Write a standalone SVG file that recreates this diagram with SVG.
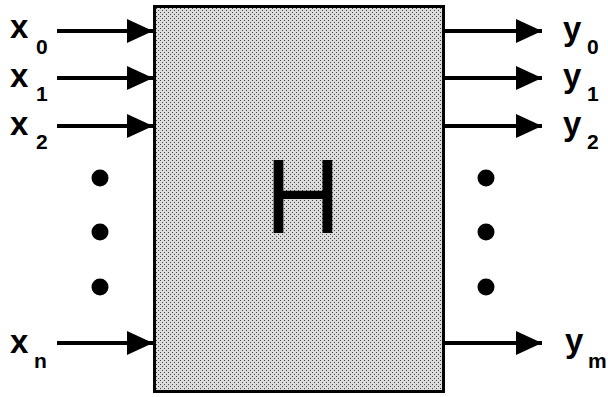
<svg xmlns="http://www.w3.org/2000/svg" width="608" height="397" viewBox="0 0 608 397">
<style>
.lbl{font-family:"Liberation Sans",Arial,sans-serif;font-weight:bold;font-size:33px;fill:#000}
.sub{font-family:"Liberation Sans",Arial,sans-serif;font-weight:bold;font-size:21px;fill:#000}
.conn{stroke:#000;stroke-width:4;fill:none;marker-end:url(#ah)}
.dot{fill:#000}
</style>
<defs>
<marker id="ah" markerUnits="userSpaceOnUse" markerWidth="26" markerHeight="25" refX="26" refY="12.5" orient="auto">
<path d="M0,0.5 L26,12.5 L0,24.5 Z" fill="#000"/>
</marker>
<pattern id="dith" width="4" height="4" patternUnits="userSpaceOnUse">
<rect width="4" height="4" fill="#dcdcdc"/>
<rect x="0" y="0" width="1" height="1" fill="#444"/>
<rect x="2" y="2" width="1" height="1" fill="#444"/>
</pattern>
</defs>
<g id="H">
<rect x="154.5" y="6.5" width="289" height="385" fill="url(#dith)" stroke="#000" stroke-width="3"/>
<text x="303" y="233" text-anchor="middle" font-family="'Liberation Sans',Arial,sans-serif" font-size="105" fill="#000">H</text>
</g>
<g id="connectors">
<line class="conn" x1="57" y1="31" x2="153" y2="31"/>
<line class="conn" x1="57" y1="78" x2="153" y2="78"/>
<line class="conn" x1="57" y1="126" x2="153" y2="126"/>
<line class="conn" x1="57" y1="343" x2="153" y2="343"/>
<line class="conn" x1="444" y1="31" x2="542" y2="31"/>
<line class="conn" x1="444" y1="78" x2="542" y2="78"/>
<line class="conn" x1="444" y1="126" x2="542" y2="126"/>
<line class="conn" x1="444" y1="343" x2="542" y2="343"/>
</g>
<g id="inputs">
<text class="lbl" x="10" y="38">x</text><text class="sub" x="36" y="54">0</text>
<text class="lbl" x="10" y="87">x</text><text class="sub" x="36" y="101">1</text>
<text class="lbl" x="10" y="135">x</text><text class="sub" x="36" y="149">2</text>
<text class="lbl" x="10" y="353">x</text><text class="sub" x="34" y="368">n</text>
</g>
<g id="outputs">
<text class="lbl" x="563" y="40">y</text><text class="sub" x="587" y="54">0</text>
<text class="lbl" x="563" y="87">y</text><text class="sub" x="587" y="101">1</text>
<text class="lbl" x="563" y="135">y</text><text class="sub" x="587" y="149">2</text>
<text class="lbl" x="565" y="352">y</text><text class="sub" x="588" y="368">m</text>
</g>
<g id="dots">
<circle class="dot" cx="100" cy="178" r="8.5"/>
<circle class="dot" cx="100" cy="232" r="8.5"/>
<circle class="dot" cx="100" cy="287" r="8.5"/>
<circle class="dot" cx="486" cy="178" r="8.5"/>
<circle class="dot" cx="486" cy="232" r="8.5"/>
<circle class="dot" cx="486" cy="287" r="8.5"/>
</g>
</svg>
